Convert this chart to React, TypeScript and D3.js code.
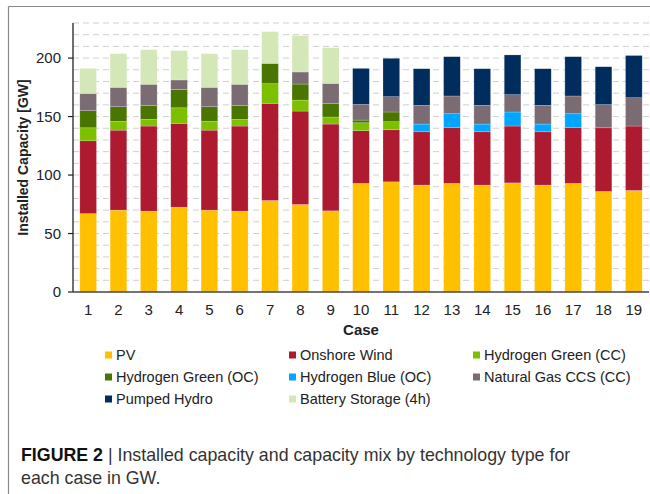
import React from "react";
import * as d3 from "d3";

const cases = ["1","2","3","4","5","6","7","8","9","10","11","12","13","14","15","16","17","18","19"];
const pv = [67, 70, 69.1, 72.5, 70, 69.1, 78.2, 74.8, 69.4, 92.8, 94.2, 91.4, 92.8, 91.4, 93.3, 91.4, 92.8, 85.9, 86.8];
const onshoreWind = [62.3, 68.4, 72.8, 71.7, 68.4, 72.8, 83.1, 79.9, 74.2, 45.1, 44.5, 45.6, 47.9, 45.6, 48.6, 45.6, 47.9, 54.5, 55.1];
const h2GreenCC = [11.1, 7.5, 5.7, 13.3, 7.5, 5.7, 16.8, 9.4, 6, 6.8, 6.9, 0, 0, 0, 0, 0, 0, 0, 0];
const h2GreenOC = [14.6, 12.5, 11.7, 15.8, 12.5, 11.7, 17.4, 13.7, 11.4, 2.3, 8.3, 0, 0, 0, 0, 0, 0, 0, 0];
const h2BlueOC = [0, 0, 0, 0, 0, 0, 0, 0, 0, 0, 0, 6.6, 11.7, 6.6, 12, 6.6, 11.7, 0, 0];
const natGasCCS = [14.8, 16.6, 18.3, 8, 16.6, 18.3, 0, 10.3, 17.4, 13.4, 13.1, 16, 15.2, 16, 14.8, 16, 15.2, 19.8, 24.2];
const pumpedHydro = [0, 0, 0, 0, 0, 0, 0, 0, 0, 30.8, 32.8, 31.3, 33.6, 31.3, 34, 31.3, 33.6, 32.4, 36.1];
const battery = [21.4, 28.8, 29.6, 25.1, 28.8, 29.6, 27.1, 31.1, 30.5, 0, 0, 0, 0, 0, 0, 0, 0, 0, 0];

const seriesNames = ["PV", "Onshore Wind", "Hydrogen Green (CC)", "Hydrogen Green (OC)", "Hydrogen Blue (OC)", "Natural Gas CCS (CC)", "Pumped Hydro", "Battery Storage (4h)"];
const seriesValues = [pv, onshoreWind, h2GreenCC, h2GreenOC, h2BlueOC, natGasCCS, pumpedHydro, battery];
const colors = ["#FFC000", "#AE1A30", "#7DC000", "#4A7500", "#00A6FF", "#7A6C72", "#002D5E", "#D4E7B6"];
const yTicks = [0, 50, 100, 150, 200];

export default function App() {
  const W = 650, H = 494;
  const left = 73, right = 649, top = 23, bottom = 292;
  const x = d3.scaleBand<string>().domain(cases).range([left, right]).paddingInner(0.45).paddingOuter(0.225);
  const y = d3.scaleLinear().domain([0, 230]).range([bottom, top]);
  const keys = seriesNames;
  const table = cases.map((c, i) => {
    const row: any = { case: c };
    keys.forEach((k, j) => (row[k] = seriesValues[j][i]));
    return row;
  });
  const stacked = d3.stack<any>().keys(keys)(table);
  const grid = d3.range(10, 231, 10);
  const font = "Liberation Sans, Arial, sans-serif";
  const legendCols = [105, 289, 473];
  const legendRows = [355, 377, 399];

  return (
    <svg width={W} height={H} style={{ position: "absolute", left: 0, top: 0, background: "#fff" }} fontFamily={font}>
      <rect x={0} y={0} width={W} height={H} fill="#fff" />
      <line x1={8.5} x2={W} y1={6.5} y2={6.5} stroke="#8a8a8a" strokeWidth={1.2} />
      <line x1={8.5} x2={8.5} y1={6.5} y2={H} stroke="#8a8a8a" strokeWidth={1.2} />
      {grid.map((g) => (
        <line key={g} x1={left} x2={right} y1={y(g)} y2={y(g)} stroke="#cfcfcf" strokeWidth={1} strokeDasharray="6,4" />
      ))}
      {stacked.map((s, si) => (
        <g key={s.key} fill={colors[si]}>
          {s.map((d, i) =>
            d[1] - d[0] > 0 ? (
              <rect key={i} x={x(cases[i])} y={y(d[1])} width={x.bandwidth()} height={y(d[0]) - y(d[1])} stroke="#ffffff" strokeOpacity={0.35} strokeWidth={0.6} />
            ) : null
          )}
        </g>
      ))}
      <line x1={left} x2={left} y1={top} y2={bottom} stroke="#222" strokeWidth={1.3} />
      <line x1={left} x2={right} y1={bottom} y2={bottom} stroke="#444" strokeWidth={1.3} />
      {yTicks.map((t) => (
        <g key={t}>
          <line x1={left - 5} x2={left} y1={y(t)} y2={y(t)} stroke="#222" strokeWidth={1.2} />
          <text x={left - 12} y={y(t)} dy="0.36em" textAnchor="end" fontSize={15} fill="#222">{t}</text>
        </g>
      ))}
      {cases.map((c) => (
        <text key={c} x={(x(c) as number) + x.bandwidth() / 2} y={315} textAnchor="middle" fontSize={15} fill="#222">{c}</text>
      ))}
      <text x={(left + right) / 2} y={335} textAnchor="middle" fontSize={15} fontWeight="bold" fill="#222">Case</text>
      <text transform={`translate(28,${(top + bottom) / 2}) rotate(-90)`} textAnchor="middle" fontSize={14} fontWeight="bold" fill="#222">Installed Capacity [GW]</text>
      {seriesNames.map((n, i) => {
        const cx = legendCols[i % 3];
        const cy = legendRows[Math.floor(i / 3)];
        return (
          <g key={n}>
            <rect x={cx} y={cy - 3.5} width={7} height={7} fill={colors[i]} />
            <text x={cx + 11} y={cy} dy="0.36em" fontSize={14.5} fill="#222">{n}</text>
          </g>
        );
      })}
      <text x={21} y={461} fontSize={17.8} fill="#333">
        <tspan fontWeight="bold" fill="#111">FIGURE 2</tspan>
        <tspan> | Installed capacity and capacity mix by technology type for</tspan>
      </text>
      <text x={21} y={484} fontSize={17.8} fill="#333">each case in GW.</text>
    </svg>
  );
}
